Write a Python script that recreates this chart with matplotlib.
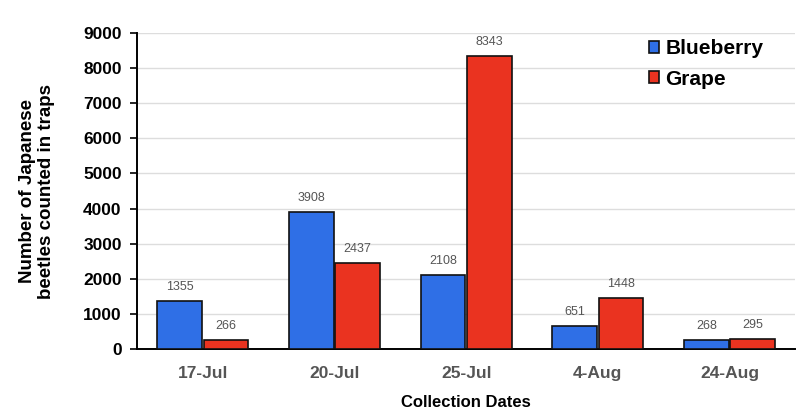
import matplotlib
matplotlib.use("Agg")
import matplotlib.pyplot as plt
import numpy as np

dates = ["17-Jul", "20-Jul", "25-Jul", "4-Aug", "24-Aug"]
blueberry = [1355, 3908, 2108, 651, 268]
grape = [266, 2437, 8343, 1448, 295]
y_ticks = [0, 1000, 2000, 3000, 4000, 5000, 6000, 7000, 8000, 9000]

plt.rcParams["font.family"] = ["Liberation Sans", "DejaVu Sans"]

fig = plt.figure(figsize=(8.01, 4.13), dpi=100)
ax = fig.add_axes([0.171, 0.155, 0.822, 0.765])

x = np.arange(len(dates))
w = 0.34
gap = 0.006
b1 = ax.bar(x - w / 2 - gap, blueberry, w, color="#2f6fe6", edgecolor="#111111",
            linewidth=1.2, label="Blueberry", zorder=3)
b2 = ax.bar(x + w / 2 + gap, grape, w, color="#ea3320", edgecolor="#111111",
            linewidth=1.2, label="Grape", zorder=3)

for bars, vals in [(b1, blueberry), (b2, grape)]:
    for b, v in zip(bars, vals):
        ax.text(b.get_x() + b.get_width() / 2, v + 230, str(v), ha="center", va="bottom",
                fontsize=9, color="#555555")

ax.set_xlim(-0.5, len(dates) - 0.5)
ax.set_ylim(0, 9000)
ax.set_yticks(y_ticks)
ax.set_yticklabels([str(t) for t in y_ticks], fontsize=12.5, fontweight="bold")
ax.set_xticks(x)
ax.set_xticklabels(dates, fontsize=12.5, fontweight="bold", color="#555555")
ax.tick_params(axis="x", length=0, pad=12)
ax.tick_params(axis="y", length=5, width=1.2, pad=6)
ax.yaxis.grid(True, color="#dddddd", linewidth=1, zorder=0)

for s in ["top", "right"]:
    ax.spines[s].set_visible(False)
ax.spines["left"].set_linewidth(1.4)
ax.spines["bottom"].set_linewidth(1.4)

ax.set_ylabel("Number of Japanese\nbeetles counted in traps", fontsize=13.5,
              fontweight="bold", labelpad=20)
ax.set_xlabel("Collection Dates", fontsize=12, fontweight="bold", labelpad=10)

leg = ax.legend(loc="upper right", bbox_to_anchor=(0.98, 1.04), frameon=False,
                prop={"size": 15, "weight": "bold"}, handlelength=0.5, handleheight=0.5,
                handletextpad=0.3, labelspacing=0.55)

fig.savefig("out.png", dpi=100, facecolor="white")
